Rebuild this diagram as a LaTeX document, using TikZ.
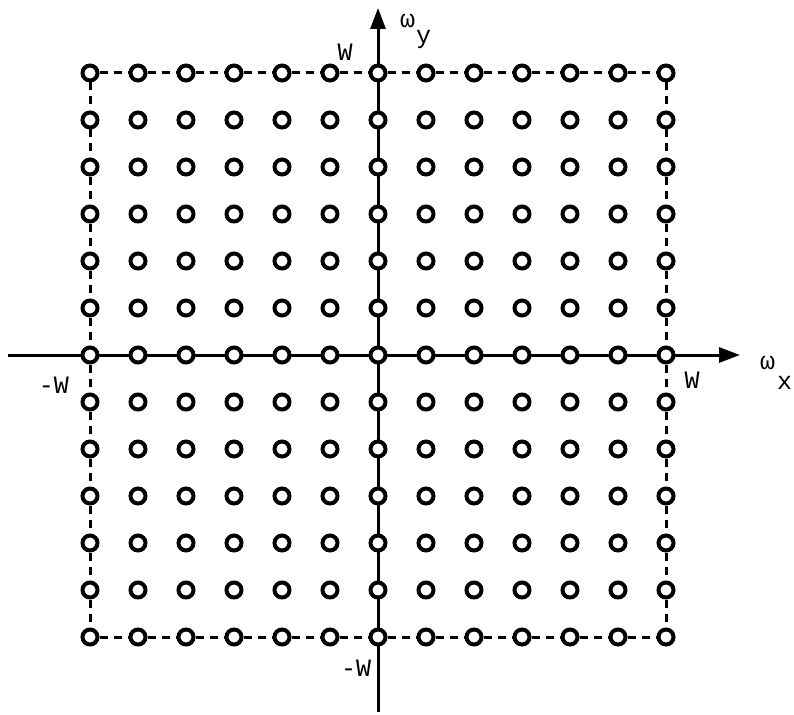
\documentclass[tikz,border=0pt]{standalone}
\usepackage{fontspec}
\newfontfamily\lblfont{Liberation Mono}
\usetikzlibrary{arrows.meta,backgrounds}
\begin{document}
\begin{tikzpicture}[x=1pt,y=-1pt,
  dot/.style={circle,draw=black,fill=white,line width=4pt,minimum size=15pt,inner sep=0pt},
  axis/.style={line width=3pt,-{Triangle[length=21pt,width=15pt]}},
  border/.style={line width=3pt,dash pattern=on 8pt off 6pt},
  lab/.style={font=\lblfont\fontsize{25}{25}\selectfont,inner sep=0pt}]
\useasboundingbox (0,0) rectangle (794,714);
\foreach \r in {0,...,12}{
  \foreach \c in {0,...,12}{
    \node[dot] (n-\r-\c) at ({90+48*\c},{73+47*\r}) {};
  }
}
\coordinate (xl) at (8,355);
\coordinate (xr) at (740,355);
\coordinate (yb) at (378,712);
\coordinate (yt) at (378,8);
\begin{scope}[on background layer]
  \draw[axis] (xl) -- (xr);
  \draw[axis] (yb) -- (yt);
  \foreach \i [evaluate=\i as \j using int(\i+1)] in {0,...,11}{
    \draw[border] (n-0-\i) -- (n-0-\j);
    \draw[border] (n-12-\i) -- (n-12-\j);
    \draw[border] (n-\i-0) -- (n-\j-0);
    \draw[border] (n-\i-12) -- (n-\j-12);
  }
\end{scope}
\node[lab] (lw) at (345,52) {W};
\node[lab,anchor=base west] (lwy) at (400,28) {ω\kern1pt\raisebox{-16pt}{y}};
\node[lab] (lmw) at (54,385) {-W};
\node[lab] (lrw) at (692,380) {W};
\node[lab,anchor=base west] (lwx) at (760,369) {ω\kern2pt\raisebox{-20pt}{x}};
\node[lab] (lbw) at (356,668) {-W};
\end{tikzpicture}
\end{document}
